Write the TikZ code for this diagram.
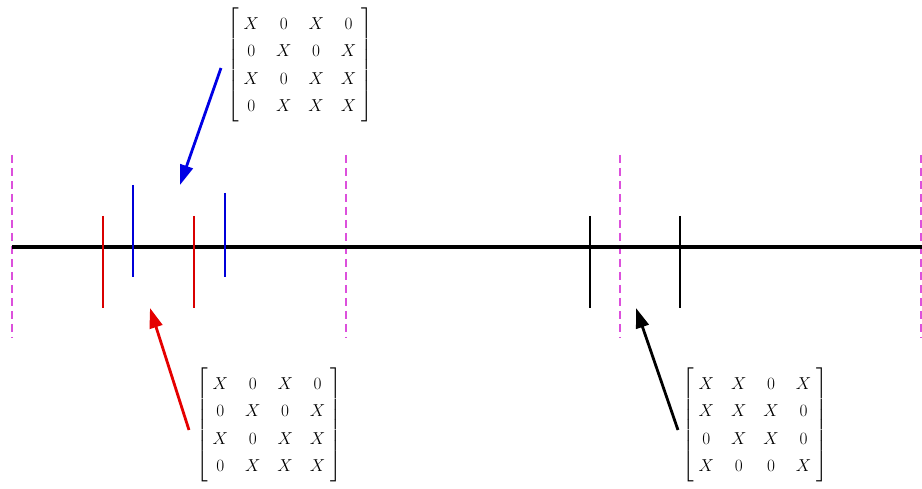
\documentclass[tikz,border=0pt]{standalone}
\usepackage{amsmath}
\usetikzlibrary{arrows.meta}
\definecolor{gridmag}{RGB}{220,80,220}
\newcommand{\mattext}[1]{%
  % #1=rows of the 4x4 pattern
  {\fontsize{16}{19}\selectfont
   \renewcommand{\arraystretch}{1.45}\setlength{\arraycolsep}{8.5pt}%
   $\left[\begin{array}{@{\hspace{5pt}}cccc@{\hspace{5pt}}}#1\end{array}\right]$}%
}
\begin{document}
\begin{tikzpicture}[
  x=1pt, y=-1pt,
  axis/.style={line width=3.5pt, black},
  bound/.style={gridmag, line width=1.5pt, dash pattern=on 8pt off 5pt},
  tickmk/.style={line width=2.8pt},
  pointer/.style={line width=2.8pt, -{Triangle[length=20pt,width=13pt]}},
  matbox/.style={inner sep=0pt},
]
\useasboundingbox (0,0) rectangle (922,489);

% Block boundaries
\foreach \bx in {12, 346, 620, 921}
  \draw[bound] (\bx,155) -- (\bx,338);

% Time axis
\draw[axis] (12,247) -- (922,247);

% Red ticks
\draw[tickmk, red!85!black] (103,216) -- (103,308);
\draw[tickmk, red!85!black] (194,216) -- (194,308);

% Blue ticks
\draw[tickmk, blue!85!black] (133,185) -- (133,277);
\draw[tickmk, blue!85!black] (225,193) -- (225,277);

% Black ticks
\draw[tickmk, black] (590,216) -- (590,308);
\draw[tickmk, black] (680,216) -- (680,308);

% Patterns
\node[matbox] (bluemat) at (300,65) {\mattext{X & 0 & X & 0\\ 0 & X & 0 & X\\ X & 0 & X & X\\ 0 & X & X & X}};
\node[matbox] (redmat) at (269,425) {\mattext{X & 0 & X & 0\\ 0 & X & 0 & X\\ X & 0 & X & X\\ 0 & X & X & X}};
\node[matbox] (blackmat) at (755,425) {\mattext{X & X & 0 & X\\ X & X & X & 0\\ 0 & X & X & 0\\ X & 0 & 0 & X}};

% Arrow tips
\coordinate (bluetip) at (180,185);
\coordinate (redtip) at (150,308);
\coordinate (blacktip) at (636,308);

% Pointers
\draw[pointer, blue!90!black] ([xshift=-6pt,yshift=-3pt]bluemat.west) -- (bluetip);
\draw[pointer, red!90!black] ([xshift=-7pt,yshift=-5pt]redmat.west) -- (redtip);
\draw[pointer, black] ([xshift=-4pt,yshift=-5pt]blackmat.west) -- (blacktip);

\end{tikzpicture}
\end{document}
